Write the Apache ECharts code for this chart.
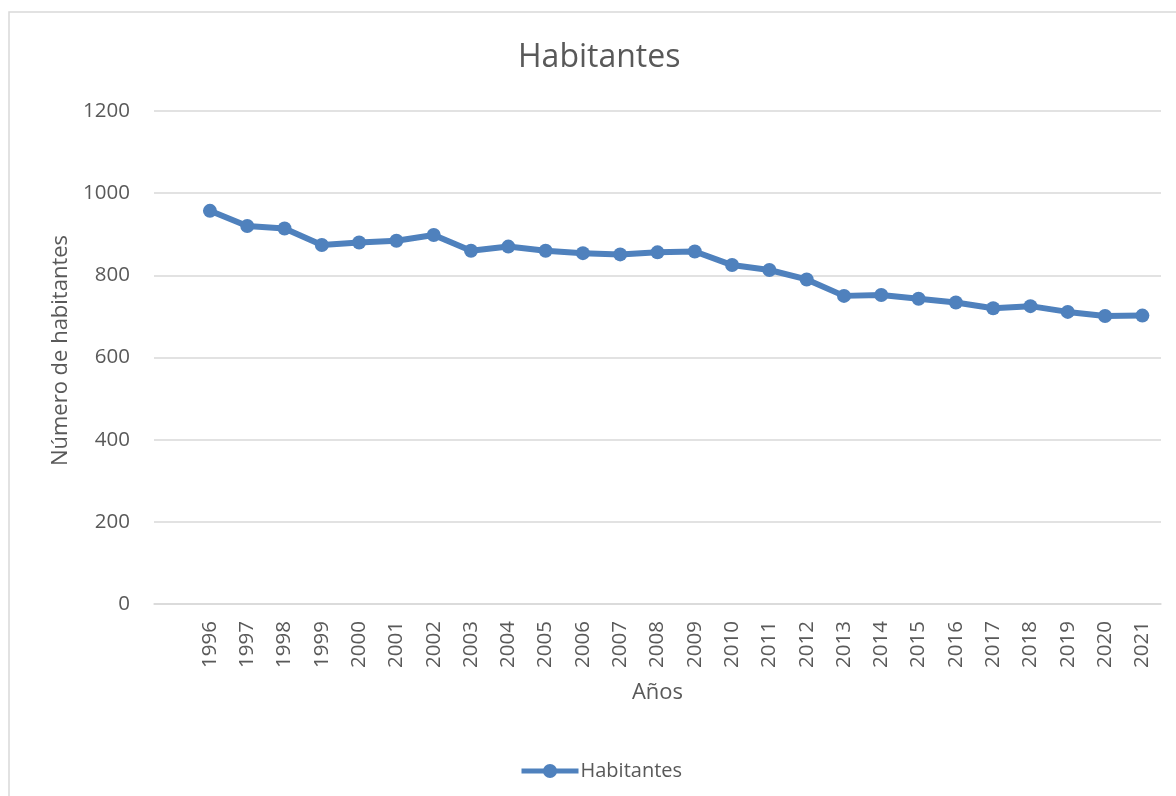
<!DOCTYPE html>
<html>
<head>
<meta charset="utf-8">
<script src="https://cdn.jsdelivr.net/npm/echarts@6/dist/echarts.min.js"></script>
<style>
  html, body { margin: 0; padding: 0; background: #ffffff; }
  #chart { width: 1176px; height: 796px; }
</style>
</head>
<body>
<div id="chart"></div>
<script>
// Years on the category axis (the leading blank slot leaves room before 1996)
const years = ['', '1996', '1997', '1998', '1999', '2000', '2001', '2002', '2003', '2004',
  '2005', '2006', '2007', '2008', '2009', '2010', '2011', '2012', '2013',
  '2014', '2015', '2016', '2017', '2018', '2019', '2020', '2021'];

// Inhabitants per year
const habitantes = [null, 957, 920, 914, 874, 880, 884, 898, 860, 870,
  860, 854, 851, 856, 858, 825, 813, 790, 750,
  752, 743, 734, 720, 725, 711, 701, 702];

// Value axis ticks
const yTicks = [0, 200, 400, 600, 800, 1000, 1200];

const FONT = '"Open Sans", "Noto Sans", sans-serif';
const TEXT = '#595959';
const GRID = '#d9d9d9';
const BLUE = '#4f81bd';

const chart = echarts.init(document.getElementById('chart'), null, { renderer: 'canvas' });

chart.setOption({
  backgroundColor: '#ffffff',
  animation: false,
  graphic: [{
    type: 'rect',
    shape: { x: 9, y: 12, width: 1220, height: 900 },
    style: { fill: 'none', stroke: GRID, lineWidth: 1.5 },
    silent: true
  }],
  title: {
    text: 'Habitantes',
    left: 513,
    top: 37,
    textStyle: { fontFamily: FONT, fontSize: 32, fontWeight: 'normal', color: TEXT }
  },
  legend: {
    left: 514,
    top: 756,
    itemWidth: 57,
    itemHeight: 17.5,
    itemGap: 10,
    lineStyle: { width: 5, color: BLUE },
    textStyle: { fontFamily: FONT, fontSize: 20, color: TEXT, padding: [0, 0, 0, -3] },
    data: ['Habitantes']
  },
  grid: {
    left: 154,
    top: 111,
    width: 1007,
    height: 493,
    containLabel: false
  },
  xAxis: {
    type: 'category',
    data: years,
    boundaryGap: true,
    name: 'Años',
    nameLocation: 'middle',
    nameGap: 78,
    nameTextStyle: { fontFamily: FONT, fontSize: 22, color: TEXT },
    axisLine: { show: true, lineStyle: { color: GRID, width: 1.5 } },
    axisTick: { show: false },
    axisLabel: {
      rotate: 90,
      interval: 0,
      margin: 17,
      fontFamily: FONT,
      fontSize: 20.5,
      color: TEXT
    },
    splitLine: { show: false }
  },
  yAxis: {
    type: 'value',
    min: yTicks[0],
    max: yTicks[yTicks.length - 1],
    interval: yTicks[1] - yTicks[0],
    name: 'Número de habitantes',
    nameLocation: 'middle',
    nameGap: 76,
    nameTextStyle: { fontFamily: FONT, fontSize: 22, color: TEXT, padding: [0, 0, 0, 14] },
    axisLine: { show: false },
    axisTick: { show: false },
    axisLabel: {
      margin: 24,
      fontFamily: FONT,
      fontSize: 20.5,
      color: TEXT,
      formatter: (v) => String(v)
    },
    splitLine: { show: true, lineStyle: { color: GRID, width: 1.5 } }
  },
  series: [{
    name: 'Habitantes',
    type: 'line',
    data: habitantes,
    connectNulls: false,
    symbol: 'circle',
    symbolSize: 14,
    showAllSymbol: true,
    itemStyle: { color: BLUE },
    lineStyle: { color: BLUE, width: 6 }
  }]
});
</script>
</body>
</html>
